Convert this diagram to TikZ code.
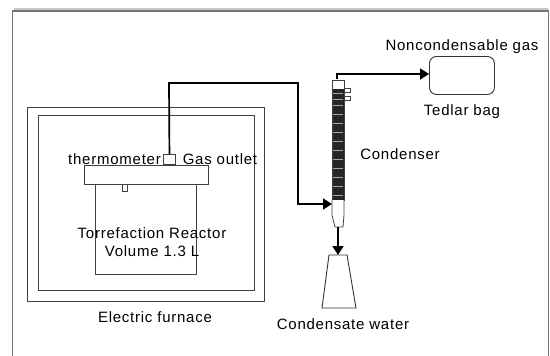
\documentclass[tikz,border=0pt]{standalone}
\usepackage{fontspec}
\setmainfont{Liberation Sans}[LetterSpace=5]
\usetikzlibrary{arrows.meta}
\tikzset{
 lbl/.style={inner sep=0pt,font=\fontsize{15}{17}\selectfont,text=black},
 box/.style={draw=black!75,line width=.9pt,fill=white,inner sep=0pt,minimum width=#1},
 pipe/.style={draw=black,line width=1.7pt},
 head/.style={-{Triangle[length=9pt,width=11pt]}}
}
\begin{document}
\begin{tikzpicture}[x=1pt,y=-1pt]
\useasboundingbox (0,0) rectangle (550,356);
% page frame
\fill[black!22] (14,8) rectangle (548,10);
\draw[black!55,line width=1.4pt] (12.5,356) -- (12.5,11) -- (548.5,11) -- (548.5,356);
% furnace
\draw[black!75,line width=.9pt] (27,107) rectangle (264,301);
\draw[black!75,line width=.9pt] (38,115) rectangle (254,290);
% reactor
\node[box=101pt,minimum height=90pt,anchor=north west] (reactor) at (95,184) {};
\node[box=124pt,minimum height=19pt,anchor=north west] (lid) at (84,165) {};
\node[box=12pt,minimum height=10pt,anchor=south west] (outlet) at (163,165) {};
\node[box=5pt,minimum height=7pt,anchor=north west] (probe) at (122,184) {};
% condenser
\node[draw=black!75,fill=white,line width=.8pt,minimum width=6pt,minimum height=4pt,inner sep=0pt] (portA) at (347,90.5) {};
\node[draw=black!75,fill=white,line width=.8pt,minimum width=6pt,minimum height=4pt,inner sep=0pt] (portB) at (347,98) {};
\draw[black!75,line width=.8pt,fill=white] (332,80) rectangle (344,200);
\fill[black!85] (332.5,89) rectangle (343.5,200);
\foreach \y in {93,99,105,114,123,132,141,150,159,168,177,186,195}
  \draw[black!35,line width=1pt] (333,\y) -- (343,\y);
\node[inner sep=0pt,minimum width=12pt,minimum height=1pt,anchor=south] (ctop) at (337,80) {};
\path[draw=black!75,line width=.8pt,fill=white] (332,200) -- (332,215) -- (335,227) -- (343,227) -- (344,215) -- (344,200);
\coordinate (cin) at (332,204);
\coordinate (cbot) at (338,227);
% flask
\path[draw=black!80,line width=.9pt,fill=white] (329,255) -- (347,255) -- (356,308) -- (322,308) -- cycle;
\coordinate (flasktop) at (338,255);
% bag
\node[draw=black!80,line width=.9pt,rounded corners=7pt,minimum width=65pt,minimum height=38pt,inner sep=0pt,anchor=north west] (bag) at (429,56) {};
% pipes
\draw[pipe,head] (outlet.north) -- (169,83) -- (298,83) -- (298,204) -- (cin);
\draw[pipe,head] (ctop.north) -- (337,74) -- (bag.west |- 0,74);
\draw[pipe,head] (cbot) -- (flasktop);
% labels
\node[lbl] (tNon) at (462,47) {Noncondensable gas};
\node[lbl] (tBag) at (462,112) {Tedlar bag};
\node[lbl] (tCond) at (400,154) {Condenser};
\node[lbl] (tTherm) at (114.5,159) {thermometer};
\node[lbl] (tGas) at (220,159) {Gas outlet};
\node[lbl] (tTor) at (152,233) {Torrefaction Reactor};
\node[lbl] (tVol) at (152,251) {Volume 1.3 L};
\node[lbl] (tEl) at (155,317) {Electric furnace};
\node[lbl] (tWat) at (343,324) {Condensate water};
\end{tikzpicture}
\end{document}
